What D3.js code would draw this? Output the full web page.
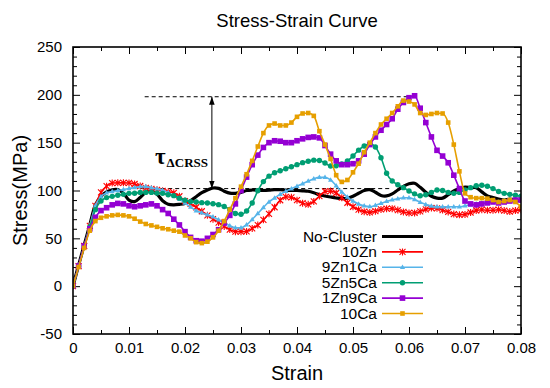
<!DOCTYPE html>
<html><head><meta charset="utf-8">
<script src="https://cdn.jsdelivr.net/npm/d3@7"></script>
<style>html,body{margin:0;padding:0;background:#fff;}</style>
</head><body>
<svg id="chart" width="550" height="388"></svg>
<script>
const strain = [0,0.001,0.002,0.003,0.004,0.005,0.006,0.007,0.008,0.009,0.010,0.011,0.012,0.013,0.014,0.015,0.016,0.017,0.018,0.019,0.020,0.021,0.022,0.023,0.024,0.025,0.026,0.027,0.028,0.029,0.030,0.031,0.032,0.033,0.034,0.035,0.036,0.037,0.038,0.039,0.040,0.041,0.042,0.043,0.044,0.045,0.046,0.047,0.048,0.049,0.050,0.051,0.052,0.053,0.054,0.055,0.056,0.057,0.058,0.059,0.060,0.061,0.062,0.063,0.064,0.065,0.066,0.067,0.068,0.069,0.070,0.071,0.072,0.073,0.074,0.075,0.076,0.077,0.078,0.079,0.080];

const noCluster = [0,22,43,64,85,94,98.5,100.8,101,97,90,88.4,92.8,98,99.3,96.1,89.3,85.6,85,85.5,86.5,89.3,93.5,97.7,100.5,102.6,102.2,99.3,97.2,97,98,100,100.5,100.4,100,100.3,101,100.8,100.3,100,100,99.7,99.2,97.7,95.6,94.3,93.2,92.2,91.5,91.9,94,97.1,100.1,100.9,98.2,94.8,94.3,96.4,100.5,104.3,107,107.5,103.3,98.2,94,92,92,95.6,99.6,101.8,103.5,103,102.9,98.6,94.4,92.6,91,90,91,90,89];
const zn10 = [0,21,42,63,84,98,104.5,107.8,108,108,107.9,106.8,104.7,102.8,101.8,100.7,99.7,98.6,97.6,94,89,86,82.5,78.3,74,70,66.5,62.5,59.2,57,57,57.2,60.4,63.9,69.3,75.6,82.5,89.8,93.4,92.9,89.9,86.7,85.6,88.6,94.2,99,99.4,97.4,92.5,87.2,83,79.9,77.9,77.1,78.4,80.2,81,81,79.6,77.6,76.5,76.5,78.2,80.3,81.7,81.4,79.5,77.6,75.4,74.6,75,77,79.1,79.9,79.4,79.4,80,79,78,79,80];
const zn9ca1 = [0,21,42,63,84,93.7,97.6,98.9,99.9,101,102,103.1,104,104,102.8,101.7,100.3,97.8,94.7,91,86.9,82.7,78.9,76.6,74.5,72.4,69.5,66.4,63.2,61.1,61.1,64.2,69.7,76,82.3,88,92.2,96,99.2,101.9,104.5,107.1,109.8,112.3,113.7,113.8,111,105,98.5,93.2,89,85.9,83.9,83.1,84.4,86.5,88.6,90.3,91.4,92.4,92.5,90.6,87.7,85.3,83.7,83,83,83,83,83,84,85,86,87.1,88,88,88,89,89,90,90];
const zn5ca5 = [0,21,42,62,80,89,92.6,93.9,95,96,97,97.1,98,98,98,97.3,97,95.6,94.6,92,89.9,88.4,88,87.3,87,86.2,85.2,83.3,80.2,76,75.1,78.6,87,99.7,109.3,115,118.6,120.7,122.8,124.9,127,129.1,130.6,131.7,131.3,128.8,125.6,125.8,127.8,130.9,136,142.2,146.5,148.7,145.4,134.3,118,110,106,103,99.5,96.5,94.5,95.5,98,100.5,100,98,97,98,100.5,103,105,105.5,104.5,102,99,97,96,95,94];
const zn1ca9 = [0,21,42,60,72,79,82,85,86.5,86,84,83,84,85,86,84,80,76,70,64,57,51,47.5,47,50,54,59,66,74,86,100,114,127,137,145,150,152,151.5,150,150,152,154,155.5,156,155,147,138,131,127,127,128,131,138,148,156,163,169,175,185,192,197,199,186,171,156,142,136,129,116,102,89,86,85,86,87,88,87,88,89,90,90];
const ca10 = [0,20,40,58,68,71.5,73,74,74.5,74,73,70.5,67.5,65,63.5,62,60.5,59.5,58,57,53,50,46,45,46.5,51,58,68,80,92,104,117,131,146,160,168,170,168,168,171,177,180.5,181,178,162,148,133,116,109,111,119,128,140,150,160,169,175,181,188,194,193,190,181,179,180,181,180.5,171,148,120,97,93,92,92,91.5,90,88,89,90,88,83];

const seriesNames = ["No-Cluster","10Zn","9Zn1Ca","5Zn5Ca","1Zn9Ca","10Ca"];
const seriesValues = [noCluster, zn10, zn9ca1, zn5ca5, zn1ca9, ca10];
const seriesColors = ["#000000","#ff0000","#56b4e9","#009e73","#9400d3","#e69f00"];
const seriesMarkers = ["none","star","triangle","circle","square","smallsquare"];

const xTicks = [0,0.01,0.02,0.03,0.04,0.05,0.06,0.07,0.08];
const xTickLabels = ["0","0.01","0.02","0.03","0.04","0.05","0.06","0.07","0.08"];
const xMinorTicks = [0.005,0.015,0.025,0.035,0.045,0.055,0.065,0.075];
const yTicks = [-50,0,50,100,150,200,250];
const yTickLabels = ["-50","0","50","100","150","200","250"];
const yMinorTicks = [-40,-30,-20,-10,10,20,30,40,60,70,80,90,110,120,130,140,160,170,180,190,210,220,230,240];

const upperLevel = 198, lowerLevel = 102;
const upperSpan = [0.0128, 0.0600];
const lowerSpan = [0.0120, 0.0570];
const arrowStrain = 0.0248;

const svg = d3.select("#chart");
const L = 73, R = 521, T = 47, B = 334;
const x = d3.scaleLinear().domain([0,0.08]).range([L,R]);
const y = d3.scaleLinear().domain([-50,250]).range([B,T]);
const sans = "'Liberation Sans', Arial, Helvetica, sans-serif";

// title
svg.append("text").attr("x",(L+R)/2).attr("y",27).attr("text-anchor","middle")
  .attr("font-family",sans).attr("font-size",18.5).text("Stress-Strain Curve");

// axes
function styleAxis(g){ g.select(".domain").remove(); g.selectAll("line").attr("stroke","#000").attr("stroke-width",1); g.selectAll("text").attr("font-family",sans).attr("font-size",15).attr("fill","#000"); }
svg.append("g").attr("transform",`translate(0,${B})`)
  .call(d3.axisBottom(x).tickValues(xTicks).tickSize(-7).tickPadding(8).tickFormat((d,i)=>xTickLabels[i]))
  .call(styleAxis);
svg.append("g").attr("transform",`translate(0,${B})`)
  .call(d3.axisBottom(x).tickValues(xMinorTicks).tickSize(-4).tickFormat("")).call(styleAxis);
svg.append("g").attr("transform",`translate(0,${T})`)
  .call(d3.axisTop(x).tickValues(xTicks).tickSize(-7).tickFormat("")).call(styleAxis);
svg.append("g").attr("transform",`translate(0,${T})`)
  .call(d3.axisTop(x).tickValues(xMinorTicks).tickSize(-4).tickFormat("")).call(styleAxis);
svg.append("g").attr("transform",`translate(${L},0)`)
  .call(d3.axisLeft(y).tickValues(yTicks).tickSize(-7).tickPadding(11).tickFormat((d,i)=>yTickLabels[i]))
  .call(styleAxis);
svg.append("g").attr("transform",`translate(${L},0)`)
  .call(d3.axisLeft(y).tickValues(yMinorTicks).tickSize(-4).tickFormat("")).call(styleAxis);
svg.append("g").attr("transform",`translate(${R},0)`)
  .call(d3.axisRight(y).tickValues(yTicks).tickSize(-7).tickFormat("")).call(styleAxis);
svg.append("g").attr("transform",`translate(${R},0)`)
  .call(d3.axisRight(y).tickValues(yMinorTicks).tickSize(-4).tickFormat("")).call(styleAxis);

// axis titles
svg.append("text").attr("x",(L+R)/2).attr("y",380).attr("text-anchor","middle")
  .attr("font-family",sans).attr("font-size",20).text("Strain");
svg.append("text").attr("transform",`translate(27,${(T+B)/2}) rotate(-90)`).attr("text-anchor","middle")
  .attr("font-family",sans).attr("font-size",20).text("Stress(MPa)");

// annotation
const defs = svg.append("defs");
defs.append("marker").attr("id","ah").attr("viewBox","0 0 10 10").attr("refX",10).attr("refY",5)
  .attr("markerWidth",8).attr("markerHeight",8).attr("markerUnits","userSpaceOnUse").attr("orient","auto-start-reverse")
  .append("path").attr("d","M0,1.5L10,5L0,8.5Z").attr("fill","#000");
svg.append("line").attr("x1",x(upperSpan[0])).attr("x2",x(upperSpan[1])).attr("y1",y(upperLevel)).attr("y2",y(upperLevel))
  .attr("stroke","#000").attr("stroke-width",1).attr("stroke-dasharray","4,3");
svg.append("line").attr("x1",x(lowerSpan[0])).attr("x2",x(lowerSpan[1])).attr("y1",y(lowerLevel)).attr("y2",y(lowerLevel))
  .attr("stroke","#000").attr("stroke-width",1).attr("stroke-dasharray","4,3");
svg.append("line").attr("x1",x(arrowStrain)).attr("x2",x(arrowStrain)).attr("y1",y(lowerLevel)).attr("y2",y(upperLevel))
  .attr("stroke","#000").attr("stroke-width",1).attr("marker-start","url(#ah)").attr("marker-end","url(#ah)");
const tau = svg.append("text").attr("x",155).attr("y",164).attr("font-family","'Liberation Serif','Times New Roman',serif").attr("font-weight","bold");
tau.append("tspan").attr("font-size",23).text("τ");
tau.append("tspan").attr("font-size",13).attr("dy",3).attr("dx",1).text("ΔCRSS");

// plot clip
defs.append("clipPath").attr("id","clip").append("rect").attr("x",L).attr("y",T).attr("width",R-L).attr("height",B-T);

function drawMarker(g, type, color, px, py){
  if(type==="star"){
    g.append("path").attr("d",`M${px-3},${py-3}L${px+3},${py+3}M${px-3},${py+3}L${px+3},${py-3}M${px},${py-3.5}L${px},${py+3.5}`)
      .attr("stroke",color).attr("stroke-width",1.1).attr("fill","none");
  } else if(type==="triangle"){
    g.append("path").attr("d",`M${px},${py-2.8}L${px+2.6},${py+1.7}L${px-2.6},${py+1.7}Z`).attr("fill",color);
  } else if(type==="circle"){
    g.append("circle").attr("cx",px).attr("cy",py).attr("r",2.7).attr("fill",color);
  } else if(type==="square"){
    g.append("rect").attr("x",px-2.8).attr("y",py-2.8).attr("width",5.6).attr("height",5.6).attr("fill",color);
  } else if(type==="smallsquare"){
    g.append("rect").attr("x",px-2.3).attr("y",py-2.3).attr("width",4.6).attr("height",4.6).attr("fill",color);
  }
}

const plot = svg.append("g").attr("clip-path","url(#clip)");
seriesValues.forEach((vals,si)=>{
  const pts = strain.map((s,i)=>[s, vals[i]]);
  const line = d3.line().x(d=>x(d[0])).y(d=>y(d[1])).curve(si===0 ? d3.curveCatmullRom : d3.curveMonotoneX);
  const g = plot.append("g");
  g.append("path").datum(pts).attr("d",line).attr("fill","none").attr("stroke",seriesColors[si])
    .attr("stroke-width", si===0 ? 3.2 : 1.6).attr("stroke-linejoin","round");
  if(seriesMarkers[si]!=="none"){
    pts.forEach(p=>drawMarker(g, seriesMarkers[si], seriesColors[si], x(p[0]), y(p[1])));
  }
});

// frame
svg.append("rect").attr("x",L).attr("y",T).attr("width",R-L).attr("height",B-T)
  .attr("fill","none").attr("stroke","#000").attr("stroke-width",1.6);

// legend
const legX = 377, legY0 = 236.5, legStep = 15.4;
seriesNames.forEach((name,i)=>{
  const yy = legY0 + i*legStep;
  svg.append("text").attr("x",legX).attr("y",yy+5).attr("text-anchor","end")
    .attr("font-family",sans).attr("font-size",15.5).text(name);
  svg.append("line").attr("x1",382).attr("x2",423).attr("y1",yy).attr("y2",yy)
    .attr("stroke",seriesColors[i]).attr("stroke-width", i===0 ? 3.2 : 1.6);
  if(seriesMarkers[i]!=="none") drawMarker(svg, seriesMarkers[i], seriesColors[i], 402.5, yy);
});
</script>
</body></html>
